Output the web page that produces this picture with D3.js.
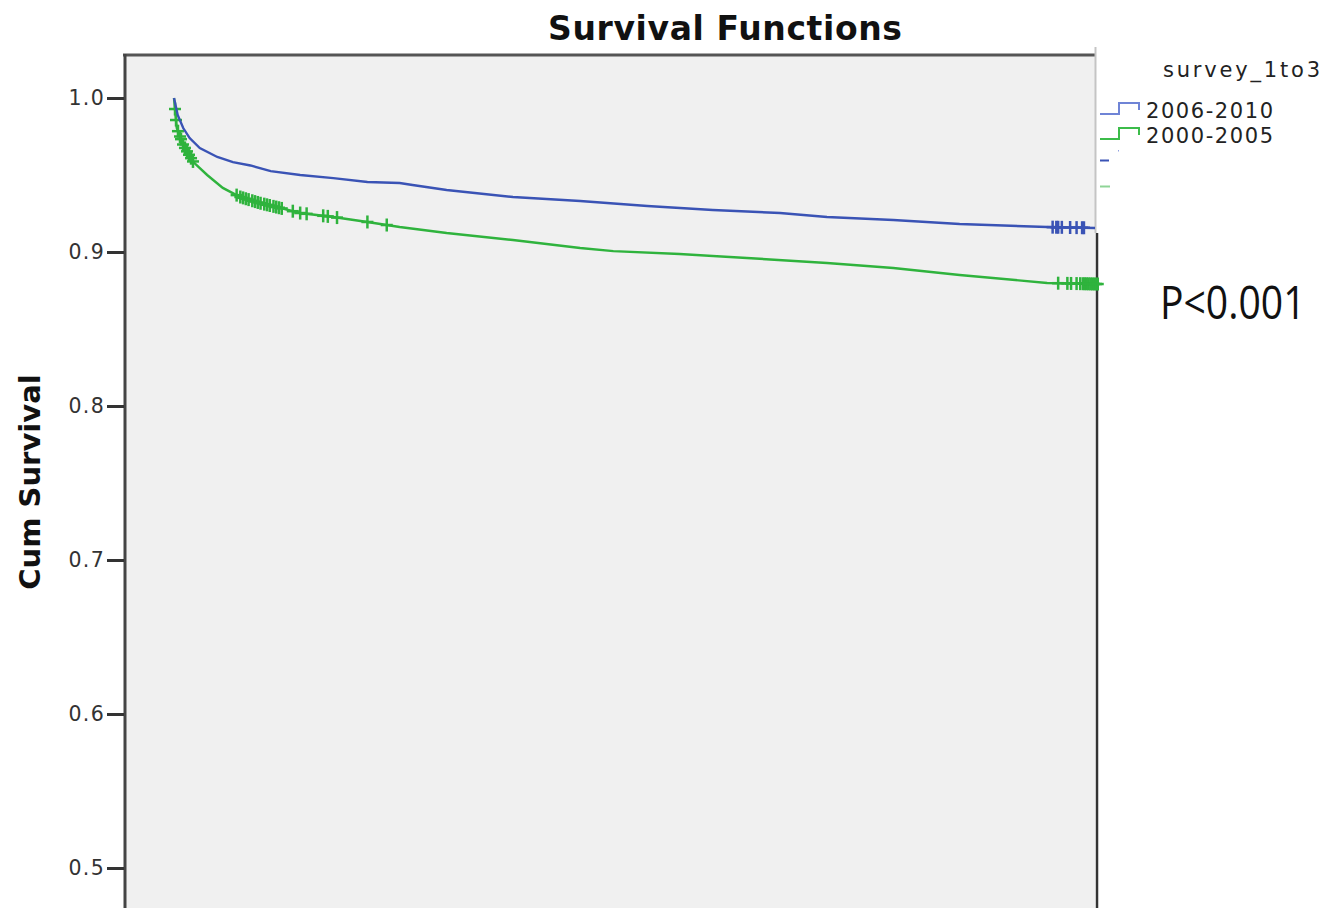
<!DOCTYPE html>
<html><head><meta charset="utf-8">
<script src="https://cdn.jsdelivr.net/npm/d3@7"></script>
<style>body{margin:0;background:#fff}svg{display:block}</style>
</head><body>
<script>
// ---- data ----
const seriesNames = ["2006-2010", "2000-2005"];
const blueTimes = [0, 0.4, 1.0, 1.7, 2.8, 4.7, 6.4, 8.3, 10.5, 13.7, 17.3, 21.0, 24.5, 25.9, 29.6, 36.8, 44.1, 51.4, 58.5, 65.8, 70.9, 78.1, 85.3, 94.8, 100];
const blueSurv = [1.0, 0.989, 0.9805, 0.974, 0.9675, 0.9617, 0.9584, 0.9562, 0.9525, 0.950, 0.948, 0.9455, 0.9448, 0.9435, 0.9403, 0.9357, 0.9331, 0.9299, 0.9273, 0.9253, 0.9227, 0.9208, 0.9182, 0.9162, 0.9156];
const greenTimes = [0, 0.3, 1.0, 2.1, 3.6, 5.3, 7.2, 9.3, 11.5, 13.7, 17.3, 21.0, 24.5, 29.6, 36.8, 44.1, 47.7, 54.9, 62.2, 70.9, 78.1, 85.3, 94.8, 100.3];
const greenSurv = [1.0, 0.9805, 0.9695, 0.9584, 0.950, 0.9416, 0.9357, 0.9318, 0.9286, 0.9253, 0.9227, 0.9195, 0.9162, 0.9123, 0.9078, 0.9026, 0.9006, 0.8987, 0.8961, 0.8929, 0.8896, 0.8851, 0.8799, 0.8792];
const blueCensor = [95.4, 95.8, 96.0, 96.4, 97.3, 98.0, 98.6, 98.8];
const greenCensor = [0.11, 0.22, 0.43, 0.65, 0.76, 0.98, 1.19, 1.41, 1.63, 1.85, 2.06,
  6.8, 7.2, 7.5, 7.8, 8.1, 8.5, 8.8, 9.1, 9.4, 9.8, 10.1, 10.4, 10.8, 11.1, 11.4, 11.7,
  12.9, 13.7, 14.4, 16.2, 16.7, 17.7, 21.0, 23.1,
  96.0, 97.0, 97.4, 98.0, 98.4, 98.7, 98.9, 99.1, 99.3, 99.5, 99.7, 99.9, 100.1, 100.3];
const yTicks = [0.5, 0.6, 0.7, 0.8, 0.9, 1.0];
const titleText = "Survival Functions";
const yLabel = "Cum Survival";
const legendTitle = "survey_1to3";
const pText = "P<0.001";

// ---- drawing ----
const W = 1325, H = 908;
const svg = d3.select("body").append("svg").attr("width", W).attr("height", H);
svg.append("rect").attr("width", W).attr("height", H).attr("fill", "#fff");

const x = d3.scaleLinear().domain([0, 100]).range([174, 1095]);
const y = d3.scaleLinear().domain([0.5, 1.0]).range([868, 98]);

// panel
svg.append("rect").attr("x", 126).attr("y", 56).attr("width", 969).attr("height", H - 56).attr("fill", "#f0f0f0");
svg.append("line").attr("x1", 123).attr("x2", 1096).attr("y1", 55).attr("y2", 55).attr("stroke", "#555").attr("stroke-width", 3);
svg.append("line").attr("x1", 125).attr("x2", 125).attr("y1", 54).attr("y2", H).attr("stroke", "#444").attr("stroke-width", 3);
svg.append("line").attr("x1", 1095.5).attr("x2", 1095.5).attr("y1", 47).attr("y2", 233).attr("stroke", "#c4c4c4").attr("stroke-width", 2);
svg.append("line").attr("x1", 1097).attr("x2", 1097).attr("y1", 233).attr("y2", H).attr("stroke", "#333").attr("stroke-width", 2.5);

// y axis
const yAxis = d3.axisLeft(y).tickValues(yTicks).tickFormat(d3.format(".1f")).tickSize(17).tickPadding(3);
const gy = svg.append("g").attr("transform", "translate(124,0)").call(yAxis);
gy.select(".domain").remove();
gy.selectAll(".tick line").attr("stroke", "#333").attr("stroke-width", 3);
gy.selectAll(".tick text").attr("font-family", "DejaVu Sans").attr("font-size", 20.5).attr("fill", "#333")
  .attr("letter-spacing", "1.3px").attr("x", -19);

// curves
const line = d3.line().x(d => x(d[0])).y(d => y(d[1])).curve(d3.curveLinear);
function interp(times, surv, t) {
  const i = d3.bisectRight(times, t);
  if (i <= 0) return surv[0];
  if (i >= times.length) return surv[surv.length - 1];
  const t0 = times[i - 1], t1 = times[i];
  return surv[i - 1] + (surv[i] - surv[i - 1]) * (t - t0) / (t1 - t0);
}
const series = [
  {times: blueTimes, surv: blueSurv, censor: blueCensor, color: "#3a53b5"},
  {times: greenTimes, surv: greenSurv, censor: greenCensor, color: "#2fb33d"}
];
series.slice().reverse().forEach(s => {
  svg.append("path").datum(d3.zip(s.times, s.surv)).attr("d", line)
    .attr("fill", "none").attr("stroke", s.color).attr("stroke-width", 2.4);
  const g = svg.append("g");
  s.censor.forEach(t => {
    const cx = x(t), cy = y(interp(s.times, s.surv, t));
    g.append("line").attr("x1", cx - 6).attr("x2", cx + 6).attr("y1", cy).attr("y2", cy).attr("stroke", s.color).attr("stroke-width", 2.5);
    g.append("line").attr("x1", cx).attr("x2", cx).attr("y1", cy - 6.5).attr("y2", cy + 6.5).attr("stroke", s.color).attr("stroke-width", 2.5);
  });
});

// title
svg.append("text").attr("x", 725).attr("y", 40).attr("text-anchor", "middle")
  .attr("font-family", "DejaVu Sans").attr("font-weight", "bold").attr("font-size", 33)
  .attr("fill", "#111").attr("textLength", 354).attr("lengthAdjust", "spacing").text(titleText);

// y label
svg.append("text").attr("transform", "translate(40,482) rotate(-90)").attr("text-anchor", "middle")
  .attr("font-family", "DejaVu Sans").attr("font-weight", "bold").attr("font-size", 29)
  .attr("fill", "#111").text(yLabel);

// legend
svg.append("text").attr("x", 1163).attr("y", 77).attr("font-family", "DejaVu Sans").attr("font-size", 21)
  .attr("fill", "#222").attr("textLength", 157).attr("lengthAdjust", "spacing").text(legendTitle);
const legColors = ["#6f84d6", "#3cbc4a"];
seriesNames.forEach((name, i) => {
  const base = 114 + i * 25;
  svg.append("path").attr("d", `M1100,${base}H1119V${base - 11}H1139V${base - 4}`)
    .attr("fill", "none").attr("stroke", legColors[i]).attr("stroke-width", 2);
  svg.append("text").attr("x", 1146).attr("y", base + 4).attr("font-family", "DejaVu Sans").attr("font-size", 21)
    .attr("fill", "#222").attr("textLength", 127).attr("lengthAdjust", "spacing").text(name);
});
svg.append("line").attr("x1", 1100).attr("x2", 1109).attr("y1", 160.5).attr("y2", 160.5).attr("stroke", "#3a53b5").attr("stroke-width", 2);
svg.append("line").attr("x1", 1100).attr("x2", 1110).attr("y1", 186.5).attr("y2", 186.5).attr("stroke", "#8fd497").attr("stroke-width", 2);
svg.append("rect").attr("x", 1118).attr("y", 150).attr("width", 1).attr("height", 1.5).attr("fill", "#8fa0e0");

// P value (narrow face emulated by horizontal scaling)
const pScale = 0.85;
svg.append("text").attr("transform", `translate(1160,319) scale(${pScale},1)`)
  .attr("font-family", "Open Sans").attr("font-size", 46)
  .attr("fill", "#111").text(pText);
</script>
</body></html>
